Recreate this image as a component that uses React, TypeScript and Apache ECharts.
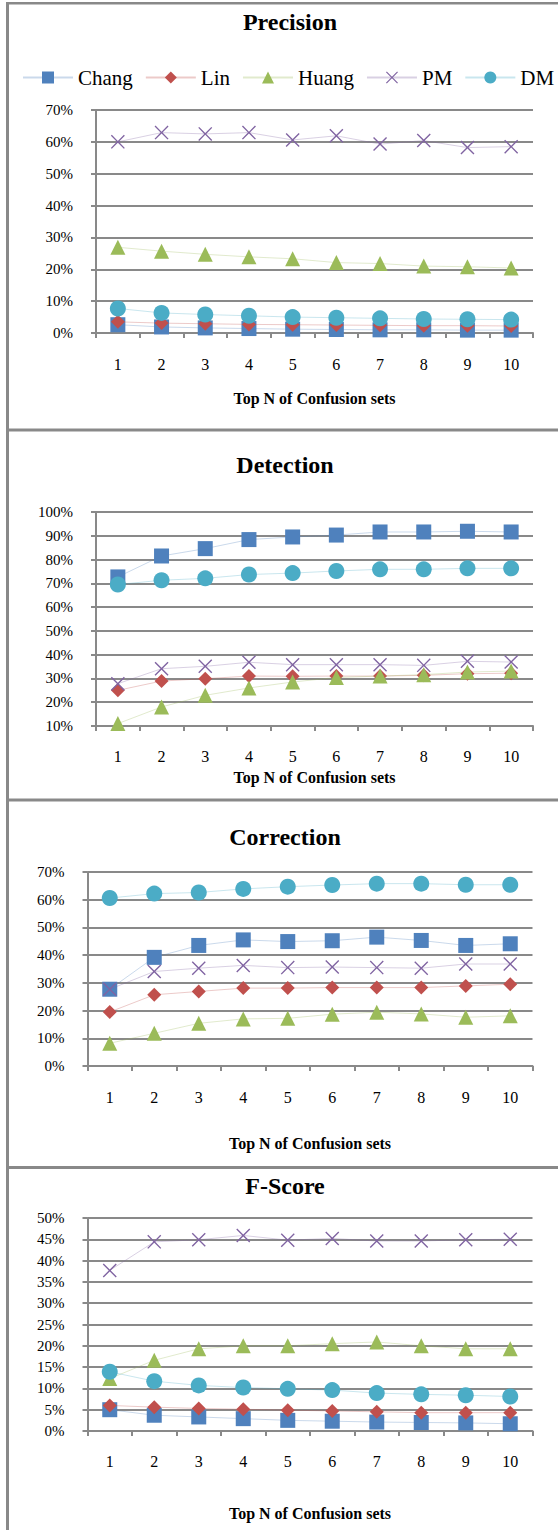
import React, { useEffect, useRef } from "react";
import * as echarts from "echarts";

const categories = ["1", "2", "3", "4", "5", "6", "7", "8", "9", "10"];
const seriesNames = ["Chang", "Lin", "Huang", "PM", "DM"];
const panelTitles = ["Precision", "Detection", "Correction", "F-Score"];
const axisTitle = "Top N of Confusion sets";

// Precision (%)
const precisionChang = [2.6, 1.9, 1.6, 1.4, 1.2, 1.1, 1.0, 1.0, 0.9, 0.9];
const precisionLin = [3.5, 3.1, 2.9, 2.7, 2.6, 2.5, 2.4, 2.3, 2.3, 2.2];
const precisionHuang = [26.9, 25.7, 24.7, 23.9, 23.3, 22.1, 21.8, 21.0, 20.8, 20.4];
const precisionPM = [60.0, 62.9, 62.5, 62.9, 60.6, 61.9, 59.3, 60.4, 58.2, 58.5];
const precisionDM = [7.7, 6.3, 5.8, 5.4, 5.0, 4.8, 4.6, 4.4, 4.3, 4.2];

// Detection (%)
const detectionChang = [72.7, 81.5, 84.6, 88.4, 89.5, 90.3, 91.6, 91.6, 91.9, 91.6];
const detectionLin = [25.0, 28.9, 29.9, 31.0, 30.9, 31.0, 31.0, 31.3, 32.0, 32.2];
const detectionHuang = [11.0, 18.0, 22.9, 26.0, 28.5, 30.4, 31.0, 31.6, 32.7, 33.1];
const detectionPM = [27.8, 34.1, 35.1, 36.8, 35.8, 35.8, 35.8, 35.5, 37.2, 36.9];
const detectionDM = [69.5, 71.3, 72.1, 73.7, 74.3, 75.2, 75.9, 75.9, 76.3, 76.3];

// Correction (%)
const correctionChang = [27.7, 39.2, 43.5, 45.5, 44.9, 45.2, 46.5, 45.3, 43.5, 44.1];
const correctionLin = [19.5, 25.7, 26.9, 28.1, 28.1, 28.3, 28.3, 28.3, 28.9, 29.5];
const correctionHuang = [8.2, 11.8, 15.4, 17.0, 17.2, 18.7, 19.4, 18.8, 17.6, 18.1];
const correctionPM = [27.7, 34.1, 35.3, 36.3, 35.5, 35.7, 35.5, 35.3, 36.8, 36.8];
const correctionDM = [60.6, 62.2, 62.6, 63.9, 64.7, 65.3, 65.8, 65.8, 65.4, 65.4];

// F-Score (%)
const fscoreChang = [5.0, 3.7, 3.3, 2.9, 2.5, 2.3, 2.1, 2.0, 1.9, 1.7];
const fscoreLin = [6.0, 5.6, 5.3, 5.1, 4.9, 4.7, 4.5, 4.3, 4.3, 4.3];
const fscoreHuang = [12.3, 16.6, 19.3, 20.0, 20.0, 20.5, 20.9, 20.0, 19.3, 19.3];
const fscorePM = [37.7, 44.4, 44.9, 45.9, 44.8, 45.2, 44.6, 44.6, 44.9, 45.0];
const fscoreDM = [13.9, 11.7, 10.7, 10.2, 9.9, 9.6, 8.9, 8.6, 8.4, 8.1];

// y-axis ranges per panel (%)
const yMins = [0, 10, 0, 0];
const yMaxs = [70, 100, 70, 50];
const yIntervals = [10, 10, 10, 5];

const panelData = [
  [precisionChang, precisionLin, precisionHuang, precisionPM, precisionDM],
  [detectionChang, detectionLin, detectionHuang, detectionPM, detectionDM],
  [correctionChang, correctionLin, correctionHuang, correctionPM, correctionDM],
  [fscoreChang, fscoreLin, fscoreHuang, fscorePM, fscoreDM],
];

const COLORS = ["#4F81BD", "#C0504D", "#9BBB59", "#8064A2", "#4BACC6"];
const X_PATH =
  "path://M0,7L7,0L50,43L93,0L100,7L57,50L100,93L93,100L50,57L7,100L0,93L43,50Z";
const SYMBOLS = ["rect", "diamond", "triangle", X_PATH, "circle"];
const SYMBOL_SIZES = [15, 14, 15, 14, 16];

const GREY = "#898989";
const FONT = "Liberation Serif, serif";

const grids = [
  { left: 96, top: 110, width: 437, height: 223 },
  { left: 96, top: 512, width: 437, height: 214 },
  { left: 87.5, top: 872, width: 445, height: 194 },
  { left: 87.5, top: 1218, width: 445, height: 213 },
];
const titleCenters = [
  { x: 290, y: 21.7 },
  { x: 285, y: 465 },
  { x: 285, y: 836.7 },
  { x: 285, y: 1186 },
];
const nameGaps = [57, 43, 69, 74];
const labelMargins = [23, 22, 23, 22];

export default function App() {
  const ref = useRef<HTMLDivElement>(null);

  useEffect(() => {
    document.body.style.margin = "0";
    if (!ref.current) return;
    const chart = echarts.init(ref.current, undefined, { renderer: "svg" });

    const series: any[] = [];
    panelData.forEach((rows, p) => {
      rows.forEach((vals, s) => {
        series.push({
          type: "line",
          name: seriesNames[s],
          xAxisIndex: p,
          yAxisIndex: p,
          data: vals,
          symbol: SYMBOLS[s],
          symbolSize: SYMBOL_SIZES[s],
          showAllSymbol: true,
          itemStyle: { color: COLORS[s], opacity: 1 },
          lineStyle: { color: COLORS[s], width: 1, opacity: 0.3 },
          emphasis: { disabled: true },
          z: 3 + s,
        });
      });
    });

    const borderLine = (x1: number, y1: number, x2: number, y2: number, w: number) => ({
      type: "line",
      silent: true,
      z: 100,
      shape: { x1, y1, x2, y2 },
      style: { stroke: GREY, lineWidth: w },
    });

    const option: any = {
      animation: false,
      backgroundColor: "#ffffff",
      title: panelTitles.map((t, i) => ({
        text: t,
        left: titleCenters[i].x,
        top: titleCenters[i].y - 12,
        textAlign: "center",
        padding: 0,
        textStyle: {
          fontFamily: FONT,
          fontWeight: "bold",
          fontSize: 24,
          color: "#000",
        },
      })),
      legend: {
        data: seriesNames,
        left: 22,
        top: 67,
        width: 700,
        padding: 0,
        itemWidth: 50,
        itemHeight: 15,
        itemGap: 12,
        selectedMode: false,
        textStyle: { fontFamily: FONT, fontSize: 21, color: "#000" },
      },
      grid: grids.map((g) => ({ ...g, containLabel: false, outerBoundsMode: "none" })),
      xAxis: grids.map((_, i) => ({
        type: "category",
        gridIndex: i,
        data: categories,
        boundaryGap: true,
        axisLine: { show: true, onZero: false, lineStyle: { color: GREY, width: 2 } },
        axisTick: { show: true, length: 5, lineStyle: { color: GREY, width: 2 } },
        axisLabel: {
          margin: labelMargins[i],
          fontFamily: FONT,
          fontSize: 16,
          color: "#000",
        },
        name: axisTitle,
        nameLocation: "middle",
        nameGap: nameGaps[i],
        nameTextStyle: {
          fontFamily: FONT,
          fontWeight: "bold",
          fontSize: 16,
          color: "#000",
        },
        splitLine: { show: false },
      })),
      yAxis: grids.map((_, i) => ({
        type: "value",
        gridIndex: i,
        min: yMins[i],
        max: yMaxs[i],
        interval: yIntervals[i],
        axisLine: { show: true, lineStyle: { color: GREY, width: 2 } },
        axisTick: { show: true, length: 5, lineStyle: { color: GREY, width: 2 } },
        axisLabel: {
          formatter: "{value}%",
          margin: 23,
          fontFamily: FONT,
          fontSize: 15,
          color: "#000",
        },
        splitLine: { show: true, lineStyle: { color: GREY, width: 2 } },
      })),
      series,
      graphic: [
        borderLine(7.5, 2, 7.5, 1530, 3),
        borderLine(6, 3.3, 558, 3.3, 2.5),
        borderLine(6, 430, 558, 430, 3),
        borderLine(6, 800, 558, 800, 3),
        borderLine(6, 1167.5, 558, 1167.5, 3),
      ],
    };

    chart.setOption(option);
    return () => chart.dispose();
  }, []);

  return <div ref={ref} style={{ width: 558, height: 1530 }} />;
}
